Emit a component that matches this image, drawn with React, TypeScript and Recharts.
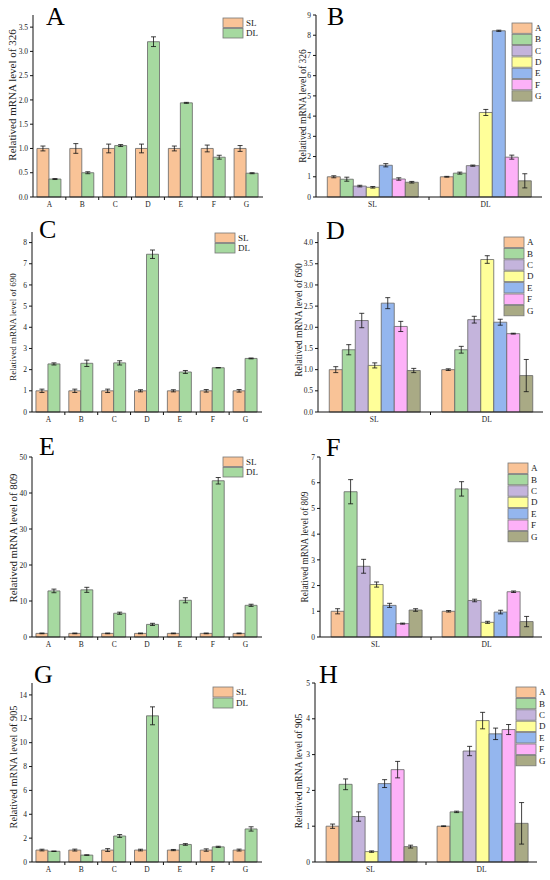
import React from "react";
import { BarChart, Bar, XAxis, YAxis, ErrorBar } from "recharts";

const FONT = "'Times New Roman', 'Liberation Serif', serif";

// Categories
const GENES = ["A", "B", "C", "D", "E", "F", "G"];
const CONDITIONS = ["SL", "DL"];

// Colours
const GENE_COLORS = ["#F9C397", "#A6D9A0", "#C4B4DC", "#FFFF99", "#94B6EE", "#FDB1F8", "#A9AA85"];
const SL_COLOR = "#F9C397";
const DL_COLOR = "#A6D9A0";

// 326 by gene (A)
const sl326 = [1, 1, 1, 1, 1, 1, 1];
const sl326Err = [0.05, 0.1, 0.09, 0.09, 0.05, 0.07, 0.06];
const dl326 = [0.37, 0.5, 1.06, 3.2, 1.94, 0.82, 0.49];
const dl326Err = [0.01, 0.02, 0.02, 0.1, 0.01, 0.04, 0.01];

// 326 by condition (B)
const cSL326 = [1.0, 0.88, 0.54, 0.48, 1.57, 0.89, 0.73];
const cSL326Err = [0.05, 0.1, 0.04, 0.04, 0.08, 0.06, 0.04];
const cDL326 = [1.0, 1.18, 1.55, 4.18, 8.22, 1.97, 0.8];
const cDL326Err = [0.02, 0.05, 0.03, 0.15, 0.03, 0.1, 0.35];

// 690 by gene (C)
const sl690 = [1, 1, 1, 1, 1, 1, 1];
const sl690Err = [0.08, 0.08, 0.08, 0.05, 0.05, 0.06, 0.06];
const dl690 = [2.27, 2.3, 2.32, 7.45, 1.89, 2.09, 2.53];
const dl690Err = [0.05, 0.15, 0.1, 0.2, 0.07, 0.01, 0.02];

// 690 by condition (D)
const cSL690 = [1.0, 1.47, 2.16, 1.1, 2.57, 2.02, 0.98];
const cSL690Err = [0.07, 0.12, 0.17, 0.06, 0.13, 0.12, 0.05];
const cDL690 = [1.0, 1.47, 2.18, 3.6, 2.12, 1.85, 0.86];
const cDL690Err = [0.02, 0.08, 0.08, 0.09, 0.07, 0.01, 0.38];

// 809 by gene (E)
const sl809 = [1, 1, 1, 1, 1, 1, 1];
const sl809Err = [0.1, 0.1, 0.1, 0.1, 0.1, 0.1, 0.1];
const dl809 = [12.8, 13.1, 6.6, 3.5, 10.2, 43.4, 8.8];
const dl809Err = [0.5, 0.7, 0.3, 0.3, 0.7, 0.9, 0.3];

// 809 by condition (F)
const cSL809 = [1.0, 5.65, 2.75, 2.04, 1.23, 0.52, 1.05];
const cSL809Err = [0.1, 0.47, 0.27, 0.1, 0.08, 0.02, 0.05];
const cDL809 = [1.0, 5.76, 1.42, 0.57, 0.97, 1.76, 0.6];
const cDL809Err = [0.03, 0.28, 0.05, 0.04, 0.07, 0.03, 0.2];

// 905 by gene (G)
const sl905 = [1, 1, 1, 1, 1, 1, 1];
const sl905Err = [0.07, 0.08, 0.12, 0.07, 0.05, 0.1, 0.08];
const dl905 = [0.9, 0.58, 2.18, 12.25, 1.47, 1.27, 2.77];
const dl905Err = [0.02, 0.02, 0.12, 0.75, 0.07, 0.05, 0.18];

// 905 by condition (H)
const cSL905 = [1.0, 2.17, 1.27, 0.29, 2.19, 2.58, 0.43];
const cSL905Err = [0.06, 0.15, 0.13, 0.02, 0.11, 0.23, 0.04];
const cDL905 = [1.0, 1.4, 3.1, 3.95, 3.58, 3.7, 1.08];
const cDL905Err = [0.01, 0.02, 0.13, 0.23, 0.16, 0.14, 0.58];

// Tick labels
const ticksA = [0, 0.5, 1, 1.5, 2, 2.5, 3, 3.5];
const ticksB = [0, 1, 2, 3, 4, 5, 6, 7, 8, 9];
const ticksC = [0, 1, 2, 3, 4, 5, 6, 7, 8];
const ticksD = [0, 0.5, 1, 1.5, 2, 2.5, 3, 3.5, 4];
const ticksE = [0, 10, 20, 30, 40, 50];
const ticksF = [0, 1, 2, 3, 4, 5, 6, 7];
const ticksG = [0, 2, 4, 6, 8, 10, 12, 14];
const ticksH = [0, 1, 2, 3, 4, 5];

type Frame = {
  letter: string;
  title: string;
  x0: number;
  axisX: number;
  right: number;
  top: number;
  bottom: number;
  max: number;
  ticks: number[];
  digits: number;
  titleX: number;
  titleY: number;
  titleSize: number;
  letterX: number;
  letterY: number;
  legendX: number;
  legendY: number;
  legendRow: number;
};

const frames: Record<string, Frame> = {
  A: { letter: "A", title: "Relatived mRNA level of 326", x0: 0, axisX: 33, right: 263, top: 15, bottom: 197, max: 3.75, ticks: ticksA, digits: 1, titleX: 12, titleY: 95, titleSize: 11, letterX: 46, letterY: 25, legendX: 223, legendY: 18, legendRow: 10.5 },
  B: { letter: "B", title: "Relatived mRNA level of 326", x0: 275, axisX: 316, right: 542, top: 15, bottom: 197, max: 9, ticks: ticksB, digits: 0, titleX: 303, titleY: 106, titleSize: 9.5, letterX: 327, letterY: 25, legendX: 512, legendY: 23, legendRow: 11.3 },
  C: { letter: "C", title: "Relatived mRNA level of 690", x0: 0, axisX: 32, right: 262, top: 232, bottom: 412, max: 8.5, ticks: ticksC, digits: 0, titleX: 13, titleY: 327, titleSize: 9, letterX: 39, letterY: 238, legendX: 215, legendY: 233, legendRow: 10.5 },
  D: { letter: "D", title: "Relatived mRNA level of 690", x0: 275, axisX: 318, right: 543, top: 232, bottom: 412, max: 4.25, ticks: ticksD, digits: 1, titleX: 299, titleY: 320, titleSize: 9.5, letterX: 326, letterY: 239, legendX: 504, legendY: 237, legendRow: 11.4 },
  E: { letter: "E", title: "Relatived mRNA level of 809", x0: 0, axisX: 32, right: 262, top: 457, bottom: 637, max: 50, ticks: ticksE, digits: 0, titleX: 13, titleY: 538, titleSize: 10.8, letterX: 39, letterY: 455, legendX: 223, legendY: 457, legendRow: 10.5 },
  F: { letter: "F", title: "Relatived mRNA level of 809", x0: 275, axisX: 320, right: 542, top: 457, bottom: 637, max: 7, ticks: ticksF, digits: 0, titleX: 305, titleY: 547, titleSize: 9.3, letterX: 326, letterY: 456, legendX: 508, legendY: 463, legendRow: 11.4 },
  G: { letter: "G", title: "Relatived mRNA level of 905", x0: 0, axisX: 32, right: 262, top: 683, bottom: 862, max: 15, ticks: ticksG, digits: 0, titleX: 13, titleY: 767, titleSize: 10.3, letterX: 34, letterY: 683, legendX: 213, legendY: 687, legendRow: 11 },
  H: { letter: "H", title: "Relatived mRNA level of 905", x0: 275, axisX: 315, right: 537, top: 683, bottom: 862, max: 5, ticks: ticksH, digits: 0, titleX: 298, titleY: 771, titleSize: 9.6, letterX: 319, letterY: 683, legendX: 516, legendY: 687, legendRow: 11.4 },
};

const axisStroke = { stroke: "#111", strokeWidth: 1 };

function chartBox(f: Frame) {
  const chartTop = f.top - 15;
  return {
    style: { position: "absolute" as const, left: f.x0, top: chartTop },
    width: 275,
    height: f.bottom - chartTop + 25,
    margin: { top: 15, right: f.x0 + 275 - f.right, bottom: 5, left: 0 },
  };
}

// category label plus a small tick at the boundary to the next category
function CategoryTick(props: any) {
  const { x, payload, index, band, count, axisY } = props;
  return (
    <g>
      <text x={x} y={axisY + 5} dy="0.71em" textAnchor="middle" fontSize={7.5} fill="#222" fontFamily={FONT}>
        {payload.value}
      </text>
      {index < count - 1 && (
        <line x1={x + band / 2} y1={axisY} x2={x + band / 2} y2={axisY + 3} stroke="#111" strokeWidth={1} />
      )}
    </g>
  );
}

function xProps(f: Frame, count: number) {
  const band = (f.right - f.axisX) / count;
  const axisY = f.bottom - f.top + 15;
  return {
    dataKey: "name",
    axisLine: axisStroke,
    tickLine: false,
    height: 20,
    interval: 0 as const,
    tick: <CategoryTick band={band} count={count} axisY={axisY} />,
  };
}

function yProps(f: Frame) {
  return {
    type: "number" as const,
    domain: [0, f.max],
    ticks: f.ticks,
    width: f.axisX - f.x0,
    axisLine: axisStroke,
    tickLine: axisStroke,
    tickSize: 3,
    tickMargin: 2,
    interval: 0 as const,
    tickFormatter: (v: number) => v.toFixed(f.digits),
    tick: { fontSize: 7.5, fill: "#222", fontFamily: FONT },
  };
}

function GenePanel({ f, sl, slErr, dl, dlErr }: { f: Frame; sl: number[]; slErr: number[]; dl: number[]; dlErr: number[] }) {
  const data = GENES.map((g, i) => ({ name: g, SL: sl[i], slErr: slErr[i], DL: dl[i], dlErr: dlErr[i] }));
  const box = chartBox(f);
  return (
    <div style={box.style}>
      <BarChart width={box.width} height={box.height} data={data} margin={box.margin} barCategoryGap="12%" barGap={0}>
        <XAxis {...xProps(f, GENES.length)} />
        <YAxis {...yProps(f)} />
        <Bar dataKey="SL" fill={SL_COLOR} stroke="#666" strokeWidth={0.8} isAnimationActive={false}>
          <ErrorBar dataKey="slErr" width={2.5} stroke="#111" strokeWidth={0.8} />
        </Bar>
        <Bar dataKey="DL" fill={DL_COLOR} stroke="#666" strokeWidth={0.8} isAnimationActive={false}>
          <ErrorBar dataKey="dlErr" width={2.5} stroke="#111" strokeWidth={0.8} />
        </Bar>
      </BarChart>
    </div>
  );
}

function ConditionPanel({ f, sl, slErr, dl, dlErr }: { f: Frame; sl: number[]; slErr: number[]; dl: number[]; dlErr: number[] }) {
  const rows = [
    [sl, slErr],
    [dl, dlErr],
  ];
  const data = CONDITIONS.map((c, ci) => {
    const row: Record<string, any> = { name: c };
    GENES.forEach((g, i) => {
      row[g] = rows[ci][0][i];
      row[g + "Err"] = rows[ci][1][i];
    });
    return row;
  });
  const box = chartBox(f);
  return (
    <div style={box.style}>
      <BarChart width={box.width} height={box.height} data={data} margin={box.margin} barCategoryGap="10%" barGap={0}>
        <XAxis {...xProps(f, CONDITIONS.length)} />
        <YAxis {...yProps(f)} />
        {GENES.map((g, i) => (
          <Bar key={g} dataKey={g} fill={GENE_COLORS[i]} stroke="#666" strokeWidth={0.8} isAnimationActive={false}>
            <ErrorBar dataKey={g + "Err"} width={2.5} stroke="#111" strokeWidth={0.8} />
          </Bar>
        ))}
      </BarChart>
    </div>
  );
}

function Labels({ f, names, colors }: { f: Frame; names: string[]; colors: string[] }) {
  return (
    <g fontFamily={FONT}>
      <text x={f.letterX} y={f.letterY} fontSize={26} fill="#000">
        {f.letter}
      </text>
      <text
        x={f.titleX}
        y={f.titleY}
        transform={`rotate(-90 ${f.titleX} ${f.titleY})`}
        textAnchor="middle"
        dominantBaseline="central"
        fontSize={f.titleSize}
        fill="#222"
      >
        {f.title}
      </text>
      {names.map((n, i) => (
        <g key={n}>
          <rect
            x={f.legendX}
            y={f.legendY + i * f.legendRow}
            width={20}
            height={f.legendRow - 1}
            fill={colors[i]}
            stroke="#777"
            strokeWidth={0.8}
          />
          <text
            x={f.legendX + 23}
            y={f.legendY + i * f.legendRow + (f.legendRow - 1) / 2}
            dominantBaseline="central"
            fontSize={9}
            fill="#222"
          >
            {n}
          </text>
        </g>
      ))}
    </g>
  );
}

export default function App() {
  const two = [SL_COLOR, DL_COLOR];
  return (
    <div style={{ position: "absolute", left: 0, top: 0, width: 550, height: 880, background: "#fff", overflow: "hidden" }}>
      <GenePanel f={frames.A} sl={sl326} slErr={sl326Err} dl={dl326} dlErr={dl326Err} />
      <ConditionPanel f={frames.B} sl={cSL326} slErr={cSL326Err} dl={cDL326} dlErr={cDL326Err} />
      <GenePanel f={frames.C} sl={sl690} slErr={sl690Err} dl={dl690} dlErr={dl690Err} />
      <ConditionPanel f={frames.D} sl={cSL690} slErr={cSL690Err} dl={cDL690} dlErr={cDL690Err} />
      <GenePanel f={frames.E} sl={sl809} slErr={sl809Err} dl={dl809} dlErr={dl809Err} />
      <ConditionPanel f={frames.F} sl={cSL809} slErr={cSL809Err} dl={cDL809} dlErr={cDL809Err} />
      <GenePanel f={frames.G} sl={sl905} slErr={sl905Err} dl={dl905} dlErr={dl905Err} />
      <ConditionPanel f={frames.H} sl={cSL905} slErr={cSL905Err} dl={cDL905} dlErr={cDL905Err} />
      <svg width={550} height={880} style={{ position: "absolute", left: 0, top: 0, pointerEvents: "none" }}>
        <Labels f={frames.A} names={CONDITIONS} colors={two} />
        <Labels f={frames.B} names={GENES} colors={GENE_COLORS} />
        <Labels f={frames.C} names={CONDITIONS} colors={two} />
        <Labels f={frames.D} names={GENES} colors={GENE_COLORS} />
        <Labels f={frames.E} names={CONDITIONS} colors={two} />
        <Labels f={frames.F} names={GENES} colors={GENE_COLORS} />
        <Labels f={frames.G} names={CONDITIONS} colors={two} />
        <Labels f={frames.H} names={GENES} colors={GENE_COLORS} />
      </svg>
    </div>
  );
}
